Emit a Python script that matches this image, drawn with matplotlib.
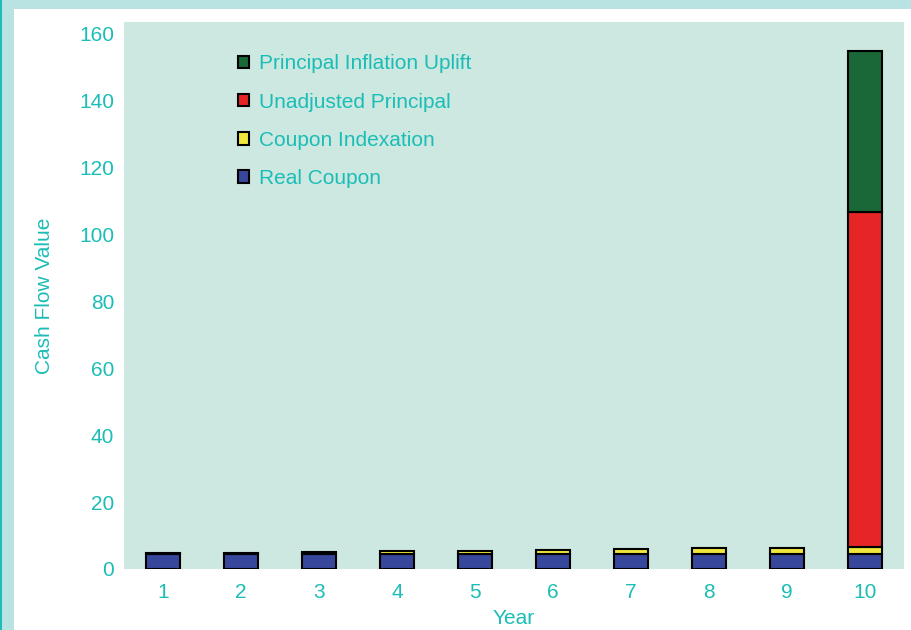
import matplotlib.pyplot as plt
from matplotlib.patches import Rectangle
import numpy as np

years = [1, 2, 3, 4, 5, 6, 7, 8, 9, 10]
real_coupon = [4.5, 4.5, 4.5, 4.5, 4.5, 4.5, 4.5, 4.5, 4.5, 4.5]
coupon_indexation = [0.2, 0.4, 0.6, 0.8, 1.0, 1.2, 1.4, 1.7, 1.9, 2.0]
unadjusted_principal = [0, 0, 0, 0, 0, 0, 0, 0, 0, 100]
inflation_uplift = [0, 0, 0, 0, 0, 0, 0, 0, 0, 48]

teal = '#1bbdb6'
fs = 15
plt.rcParams['font.family'] = ['Liberation Sans', 'DejaVu Sans']

fig = plt.figure(figsize=(9.12, 6.3), dpi=100)
fig.patch.set_facecolor('white')
# border bands
fig.patches.append(Rectangle((0, 1 - 9 / 630), 1, 9 / 630, transform=fig.transFigure,
                             facecolor='#b9e3e2', edgecolor='none', zorder=0))
fig.patches.append(Rectangle((0, 0), 14 / 912, 1, transform=fig.transFigure,
                             facecolor='#b9e3e2', edgecolor='none', zorder=0))
fig.patches.append(Rectangle((0, 0), 2 / 912, 1, transform=fig.transFigure,
                             facecolor='#1bbdb6', edgecolor='none', zorder=0))

ax = fig.add_axes([124 / 912, 61 / 630, 780 / 912, 547 / 630])
ax.set_facecolor('#cce8e0')

x = np.array(years)
rc = np.array(real_coupon)
ci = np.array(coupon_indexation)
up = np.array(unadjusted_principal)
iu = np.array(inflation_uplift)

w = 0.44
kw = dict(width=w, edgecolor='black', linewidth=1.5)
b1 = ax.bar(x, rc, color='#37479b', label='Real Coupon', **kw)
b2 = ax.bar(x, ci, bottom=rc, color='#f0e63c', label='Coupon Indexation', **kw)
b3 = ax.bar(x[up > 0], up[up > 0], bottom=(rc + ci)[up > 0], color='#e52526',
            label='Unadjusted Principal', **kw)
b4 = ax.bar(x[iu > 0], iu[iu > 0], bottom=(rc + ci + up)[iu > 0], color='#1a6837',
            label='Principal Inflation Uplift', **kw)

ax.set_xlim(0.5, 10.5)
ax.set_ylim(0, 163.3)
ax.set_xticks(years)
ax.set_yticks(range(0, 161, 20))
ax.tick_params(length=0, labelsize=fs, labelcolor=teal)
ax.tick_params(axis='x', pad=10)
ax.tick_params(axis='y', pad=7)
for s in ax.spines.values():
    s.set_visible(False)

ax.set_xlabel('Year', fontsize=fs, color=teal, labelpad=5)
ax.set_ylabel('Cash Flow Value', fontsize=fs, color=teal, labelpad=18)

leg = ax.legend(handles=[b4, b3, b2, b1], loc='upper left', bbox_to_anchor=(0.122, 0.975),
                frameon=False, fontsize=fs, handlelength=0.55, handleheight=0.55,
                handletextpad=0.45, labelspacing=0.92)
for t in leg.get_texts():
    t.set_color(teal)

fig.savefig('out.png', dpi=100)
